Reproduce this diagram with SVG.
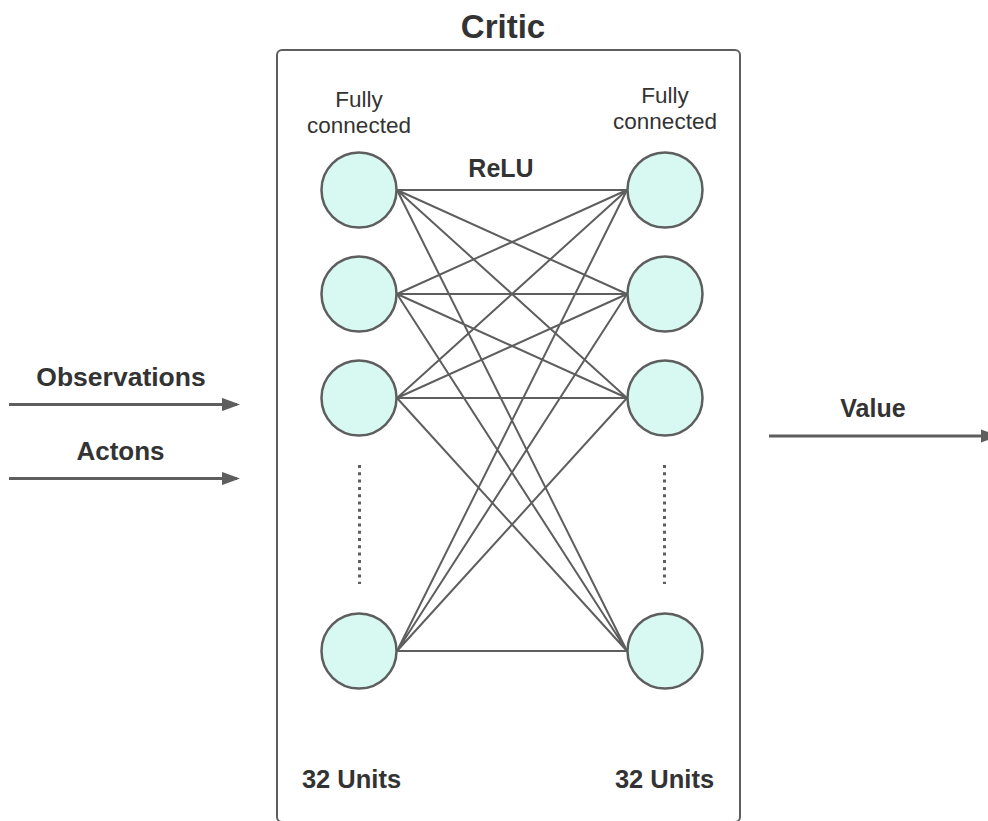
<svg xmlns="http://www.w3.org/2000/svg" width="988" height="821" viewBox="0 0 988 821">
  <style>
    .t { font-family: "Liberation Sans", Arial, sans-serif; fill: #333333; text-anchor: middle; }
    .b { font-weight: bold; }
    .unit { fill: #d8f8f2; stroke: #5e5e5e; stroke-width: 2.5; }
    .edge { stroke: #5e5e5e; stroke-width: 2; fill: none; }
    .flow { stroke: #5e5e5e; stroke-width: 3; fill: none; }
    .dots { stroke: #5e5e5e; stroke-width: 3; stroke-dasharray: 3 4.3; fill: none; }
  </style>
  <defs>
    <marker id="arrow" markerWidth="6" markerHeight="4.4" refX="5" refY="2.2" orient="auto" markerUnits="strokeWidth">
      <path d="M0,0 L6,2.2 L0,4.4 Z" fill="#5e5e5e"/>
    </marker>
  </defs>
  <rect width="988" height="821" fill="#ffffff"/>

  <!-- Critic network frame -->
  <g id="critic">
    <rect x="277" y="50" width="463" height="772" rx="5" fill="#ffffff" stroke="#5e5e5e" stroke-width="2"/>
    <text class="t b" x="503" y="38" font-size="33">Critic</text>
  </g>

  <!-- dense connections between the two layers -->
  <g id="connections">
    <path class="edge" d="
      M397,190 L627,190 M397,190 L627,294 M397,190 L627,398 M397,190 L627,651
      M397,294 L627,190 M397,294 L627,294 M397,294 L627,398 M397,294 L627,651
      M397,398 L627,190 M397,398 L627,294 M397,398 L627,398 M397,398 L627,651
      M397,651 L627,190 M397,651 L627,294 M397,651 L627,398 M397,651 L627,651"/>
    <path class="flow" d="M9,404.5 L237,404.5" marker-end="url(#arrow)"/>
    <path class="flow" d="M9,478.5 L237,478.5" marker-end="url(#arrow)"/>
    <path class="flow" d="M769,436 L996,436" marker-end="url(#arrow)"/>
  </g>

  <!-- input layer -->
  <g id="layer-in">
    <text class="t" x="359" y="107" font-size="22.5">Fully</text>
    <text class="t" x="359" y="133" font-size="22.5">connected</text>
    <circle class="unit" cx="359" cy="190" r="37.5"/>
    <circle class="unit" cx="359" cy="294" r="37.5"/>
    <circle class="unit" cx="359" cy="398" r="37.5"/>
    <path class="dots" d="M359.5,465 L359.5,584"/>
    <circle class="unit" cx="359" cy="651" r="37.5"/>
    <text class="t b" x="351.5" y="788" font-size="25.5">32 Units</text>
  </g>

  <!-- output layer -->
  <g id="layer-out">
    <text class="t" x="665" y="103" font-size="22.5">Fully</text>
    <text class="t" x="665" y="129" font-size="22.5">connected</text>
    <circle class="unit" cx="665" cy="190" r="37.5"/>
    <circle class="unit" cx="665" cy="294" r="37.5"/>
    <circle class="unit" cx="665" cy="398" r="37.5"/>
    <path class="dots" d="M664.5,465 L664.5,584"/>
    <circle class="unit" cx="665" cy="651" r="37.5"/>
    <text class="t b" x="664.5" y="788" font-size="25.5">32 Units</text>
  </g>

  <g id="activation">
    <text class="t b" x="501" y="177" font-size="25">ReLU</text>
  </g>

  <g id="inputs">
    <text class="t b" x="121" y="385.5" font-size="26.5">Observations</text>
    <text class="t b" x="120.5" y="459.5" font-size="26">Actons</text>
  </g>

  <g id="output">
    <text class="t b" x="873" y="417" font-size="25">Value</text>
  </g>
</svg>
